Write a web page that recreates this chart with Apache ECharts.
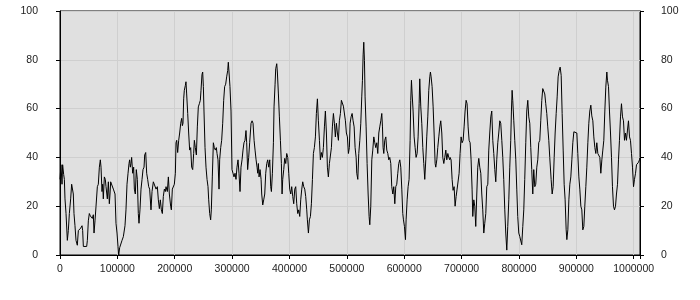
<!DOCTYPE html>
<html><head><meta charset="utf-8">
<script src="https://cdn.jsdelivr.net/npm/echarts@6/dist/echarts.min.js"></script>
<style>html,body{margin:0;padding:0;background:#fff}#c{width:700px;height:300px}</style>
</head><body><div id="c"></div>
<script>
const xs = [0,1700,3500,4600,6400,7600,8700,10500,12800,14500,16300,18600,20300,22100,23200,24400,26100,27900,30200,32000,36000,38400,39500,40700,46500,47700,49400,51100,52900,56400,58100,59300,61000,62800,65100,66800,68600,70300,71500,73200,74400,75500,77300,79000,80200,82500,84300,86000,87200,88300,90700,93000,95900,97600,99400,101100,102300,104000,105700,108100,110400,113300,115000,116800,118600,120300,121400,122600,123800,124900,126700,128400,129600,131300,133000,134800,136500,137700,139400,141200,143000,144700,146500,147600,149400,151100,152800,154600,156300,
158600,160400,162700,165000,167400,169700,171400,173200,174900,176700,178400,180100,181900,183600,184800,187100,188900,190600,192900,194100,195800,197600,199300,201100,202200,203400,205100,206900,208600,210400,212100,213300,214400,215600,216700,218500,219600,220800,222600,224300,226000,227800,229500,231300,233000,234200,235900,237700,239400,241100,242900,244600,245800,247500,248700,249900,251000,252800,254500,256300,258000,259200,260900,262600,263800,265500,267300,269000,270800,272500,273700,275400,277200,278300,280100,281800,283600,285300,287000,288800,290500,292300,293400,294600,296300,298100,299800,301600,303300,305100,306800,308500,310300,312000,313800,315500,317300,319000,320700,322500,324200,325400,327100,328900,330600,
333000,334800,336500,338300,340000,341800,343500,344700,345800,347000,348700,350500,351600,353400,355100,356900,358600,360400,362100,363800,365600,367300,368500,370200,372000,373100,374900,376000,377800,378900,380700,382400,384200,385900,387100,388200,390000,391700,393500,395200,397000,398700,400400,402200,403900,405700,407400,409200,410900,412600,414400,416100,417900,419600,421400,423100,424800,426600,428300,430100,431200,433000,434700,436500,438200,440000,441700,443400,445200,446900,448700,450400,452200,453900,455600,457400,459100,460900,462600,464400,466100,467800,469600,471300,473100,474800,476600,478300,480000,481800,483500,485300,487000,488800,490500,492200,494000,495700,497500,499200,501000,502700,504400,
505700,507400,509200,510900,512700,514400,516200,517300,519100,520800,522600,524300,526000,527200,528400,529500,530700,531800,533600,535300,537100,538800,540000,541700,543500,545200,547000,548700,550400,552200,553900,555700,557400,559200,560900,562100,563200,564400,566100,567900,569600,571400,573100,574800,576600,578300,580100,581800,583600,585300,587000,588800,590500,592300,594000,595800,597500,598700,600400,602200,603300,605100,606800,608500,610300,611400,612600,613800,615500,617300,619000,620700,622500,624200,626000,627100,628900,630600,632400,634100,635800,637600,639300,641100,642800,644600,645700,646900,648600,650400,652100,653900,655000,656800,658500,660300,662000,663700,665500,667200,669000,670700,672500,674200,676000,677700,679400,
680000,681700,683500,685200,687000,688700,690500,692200,693900,695700,697400,699200,700900,702700,704400,706100,707900,709600,711400,713100,714900,716600,718300,719500,721300,723000,724700,726500,728200,730000,731700,733500,735200,736900,738700,740400,742200,743900,745700,747400,749100,750900,752600,754400,756100,757900,759600,761300,763100,764800,766600,768300,770100,771800,773500,775300,777000,778800,780500,782300,784000,785700,786900,788100,789200,791000,792700,794500,796200,797900,799700,801400,803200,804900,806700,808400,810100,811900,813600,815400,817100,818900,820600,822300,824100,825800,827600,829300,831100,832800,834500,836300,838000,839800,841500,843300,845000,846700,848500,850200,852000,853700,
854400,856100,857900,859600,861400,863100,864900,866600,868300,870100,871800,873600,875300,877100,878800,880500,882300,883500,885200,887000,888700,890400,892200,893900,895700,897400,900900,902600,904400,906100,907900,909600,911300,913100,914800,916600,918300,920100,921800,923500,925300,927000,928800,930500,932300,934000,935700,937500,939200,941000,942700,944500,946200,947900,949700,951400,953200,954300,956100,957800,959600,961300,963000,964800,966500,968300,970000,971800,973500,975200,977000,978700,980500,982200,984000,985700,987400,989200,990900,992700,994400,996200,997900,999700,1001400,1003200,1004900,1006600,1008400,1010100,1011000];
const ys = [31,37,29,37,33,31,23,17,6,10,17,23,29,29,25,17,12,6,4,10,11,12,10,3.5,3.5,6,14,17,16,15,16.5,9,14,20,28,29,36,39,36,26,29,23,32,31,28,23,30,21,25,30,30,27,25,13,9,3.5,0,3,3.5,6,7.5,12,18.5,29,33.5,37.5,39,36,37.5,40,33.5,36,27,25,35,31,17,13,18.5,27,31,35,36,41,42,33.5,31,28,27,
18.5,26,30,30,27,28,22.6,19,22.6,18.5,17,24,27,26,28,26,32,25,20,18.5,27,27,29,33.5,46,47,42,47,50,54,56,53,54,64,67.5,69.5,71,66,58,50,43,44,36,35,41.6,47,44,41,52.5,60.7,62,63.4,67.5,74,75,69,59,44,36,31,28,22.6,17,14.4,18.5,32,46,44,43,44,41.6,39,27,39,44,47,54,63.4,69,70,73,75.6,79,75,69,59,35,33.5,32,33.5,31,36,39,33.5,26,36,39,43,46,47,51,46,35,40,46,
54,55,54,47,43,39,36,33.5,37.5,32,35,31,25,20.5,22.6,25,33.5,37.5,39,36,39,28,26,33.5,46,60.7,70,76.3,78.4,75,66,56.6,47,37.5,25,31,35,39.6,37.5,41.6,40,33.5,27,25,28,24,21,27,28,21,17,18.5,15.8,22.6,27,30,28,27,24,18.5,14.4,9,14.4,15.8,21,31,41.6,44,48.4,58,64,55,47,39,42,40,44,52.5,59,50,36,32,37.5,37,44,52.5,58,54,48.4,54,50,47,55,58,63.4,64,61,60.7,55,50,48.4,41.6,44,
54,56.6,58,55,52.5,44,40,33.5,31,41.6,47,54,64.8,71.6,82,87.2,79.7,64.8,52.5,37.5,25,15.8,12.4,20,39,43,48.4,46,44,46,41.6,50,52.5,55,58,52.5,44,41.6,47,48.4,43,41.6,39,40,37.5,28,25,28,21,28,29,33.5,37.5,39,36,27,17,14.4,11.7,6.3,14.4,22.6,28,31,47,63.4,71.6,66,59,48.4,44,40,41.6,48.4,62,72.2,60.7,54,44,37.5,31,39,48.4,56.6,67.5,73,75,73,69,60.7,50,37.5,36,39,44,48.4,52.5,55,50,40,37.5,40,43,39,41.6,40,39,
40,39,31,26.5,28,20,24,27,27,33.5,41.6,48.4,46,47,52.5,59,63.4,62,52.5,47,46,39,27,15.8,22.6,20,11.7,25,36,39.6,36,33.5,25,18.5,9,13,17,28,29,43,50,56.6,59,47,41.6,35,30,39,46,50,55,54,47,40,31,18.5,9,2,11.7,22.6,36,47,59,67.5,63.4,55,47,39,27,15.8,9,7.6,7.6,4.2,11.7,18.5,31,46,59,63.4,56.6,54,44,35,25,35,28,29,36,39,46,47,55,63.4,68.2,67.5,66,62,58,52.5,47,40,
40,31,25,28,40,50,58,64.8,73,75.6,77,73.6,58,43,29,22.6,10.3,6.3,10.3,22.6,29,32,39,46,50.5,50,50,41.6,32,27,20,18.5,10.3,11.7,20,28,36,46,54,59,61.4,57,55,48.4,44,41.6,46,41.6,42,40,33.5,39,43,47,59,68.8,75,71.6,69,59,50,40,28,20,18.5,20,25,29,39,47,56.6,62,56.6,55,47,50,47,51.2,55,48.4,47,41.6,36,28,31,33.5,37,37.5,38,39,40];
const yTicks = [0,20,40,60,80,100];
const xTickStep = 100000;

const data = xs.map((x,i)=>[x, ys[i]]);
const lbl = {fontFamily:'Liberation Sans', fontSize:10.5, color:'#222'};
const chart = echarts.init(document.getElementById('c'), null, {renderer:'canvas'});
chart.setOption({
  animation:false,
  grid:{left:60,right:60,top:11,bottom:45,show:true,backgroundColor:'#e0e0e0',borderColor:'#000',borderWidth:1},
  xAxis:{type:'value',min:0,max:1011000,interval:xTickStep,
    axisLine:{lineStyle:{color:'#000'}},
    axisTick:{length:4,lineStyle:{color:'#000'}},
    splitLine:{lineStyle:{color:'#cfcfcf'}},
    axisLabel:Object.assign({margin:9,formatter:v=> (v % xTickStep===0 ? String(v) : '')},lbl)},
  yAxis:[
    {type:'value',min:yTicks[0],max:yTicks[yTicks.length-1],interval:20,position:'left',
     axisLine:{show:true,lineStyle:{color:'#000'}},axisTick:{show:true,length:4,lineStyle:{color:'#000'}},
     splitLine:{lineStyle:{color:'#cfcfcf'}},axisLabel:Object.assign({margin:22},lbl)},
    {type:'value',min:yTicks[0],max:yTicks[yTicks.length-1],interval:20,position:'right',
     axisLine:{show:true,lineStyle:{color:'#000'}},axisTick:{show:true,length:4,lineStyle:{color:'#000'}},
     splitLine:{show:false},axisLabel:Object.assign({margin:21},lbl)}
  ],
  series:[{type:'line',data:data,showSymbol:false,symbol:'none',lineStyle:{color:'#000',width:1},z:5}]
});
</script></body></html>
